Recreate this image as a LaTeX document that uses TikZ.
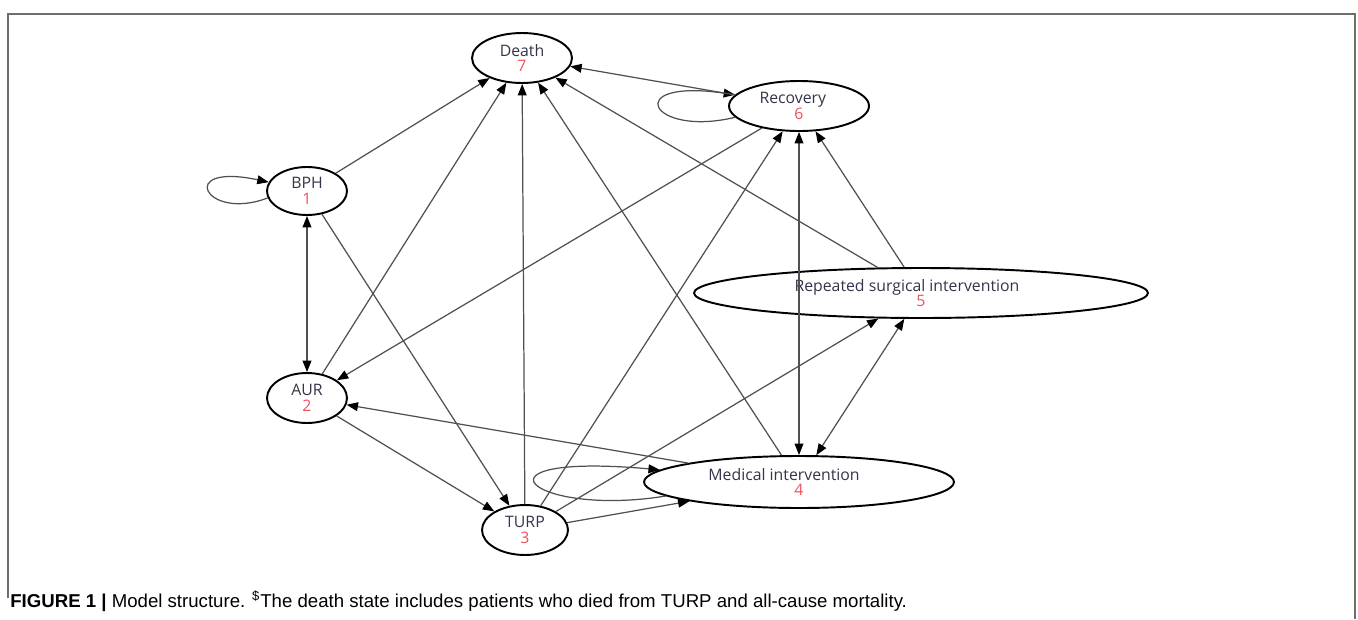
\documentclass[tikz,border=0pt]{standalone}
\usepackage{fontspec}
\setmainfont{Liberation Sans}
\newfontfamily\statefont{Open Sans}
\usetikzlibrary{positioning,arrows.meta,shapes.geometric}
\definecolor{edgegray}{HTML}{505050}
\definecolor{numred}{HTML}{F0505E}
\definecolor{labelgray}{HTML}{34344A}
\definecolor{framegray}{HTML}{6E6E6E}
\newcommand{\statenum}[1]{\textcolor{numred}{#1}}

\begin{document}
\begin{tikzpicture}[x=0.02cm, y=-0.02cm,
    state/.style={draw, ellipse, line width=1.1pt, inner sep=0pt, align=center,
        font=\statefont\fontsize{9}{9}\selectfont, text=labelgray},
    link/.style={draw=edgegray, line width=0.7pt, -{Triangle[length=6.5pt,width=5pt,color=black]}},
    twoway/.style={link, {Triangle[length=6.5pt,width=5pt,color=black]}-{Triangle[length=6.5pt,width=5pt,color=black]}}]
        \useasboundingbox (0,0) rectangle (1358,619);

        % Moldura da figura
        \draw[framegray, line width=0.9pt] (8,598) -- (8,14) -- (1355,14) -- (1355,619);

        % Estados do modelo
        \node[state, minimum width=2cm, minimum height=1cm] (death) at (522, 58) {Death\\\statenum{7}};
        \node[state, minimum width=1.6cm, minimum height=0.96cm] (bph) at (307, 191) {BPH\\\statenum{1}};
        \node[state, minimum width=1.6cm, minimum height=1cm] (aur) at (307, 398) {AUR\\\statenum{2}};
        \node[state, minimum width=1.72cm, minimum height=1cm] (turp) at (525, 530) {TURP\\\statenum{3}};
        \node[state, minimum width=6.2cm, minimum height=1.04cm] (medical) at (799, 482) {\hbox{Medical intervention\kern17pt}\\\statenum{4}};
        \node[state, minimum width=9.08cm, minimum height=1cm] (repeated) at (921, 293) {\hbox{Repeated surgical intervention\kern16pt}\\\statenum{5}};
        \node[state, minimum width=2.8cm, minimum height=1cm] (recovery) at (799, 106) {\hbox{Recovery\kern7pt}\\\statenum{6}};

        % Transições
        \draw[link] (bph.190) .. controls (205,222) and (175,162) .. (bph.167);
        \draw[link] (recovery.190) .. controls (650,138) and (620,78) .. (recovery.170);
        \draw[link] (medical.186) .. controls (530,518) and (460,452) .. (medical.175);

        \draw[link] (bph) -- (death);
        \draw[twoway] (bph) -- (aur);
        \draw[link] (bph) -- (turp);
        \draw[link] (aur) -- (death);
        \draw[link] (aur) -- (turp);
        \draw[link] (turp) -- (death);
        \draw[link] (turp) -- (recovery);
        \draw[link] (turp) -- (repeated);
        \draw[link] (turp) -- (medical);
        \draw[link] (medical) -- (death);
        \draw[link] (medical) -- (aur);
        \draw[link] (repeated) -- (death);
        \draw[link] (repeated) -- (recovery);
        \draw[twoway] (repeated) -- (medical);
        \draw[twoway] (recovery) -- (medical);
        \draw[link] (recovery) -- (death);
        \draw[link] (recovery) -- (aur);

        \node[anchor=base west, inner sep=0pt, font=\fontsize{10.6}{12}\selectfont] (caption) at (10, 607)
            {\textbf{FIGURE 1 |} Model structure. \textsuperscript{\$}The death state includes patients who died from TURP and all-cause mortality.};
    \end{tikzpicture}
\end{document}
